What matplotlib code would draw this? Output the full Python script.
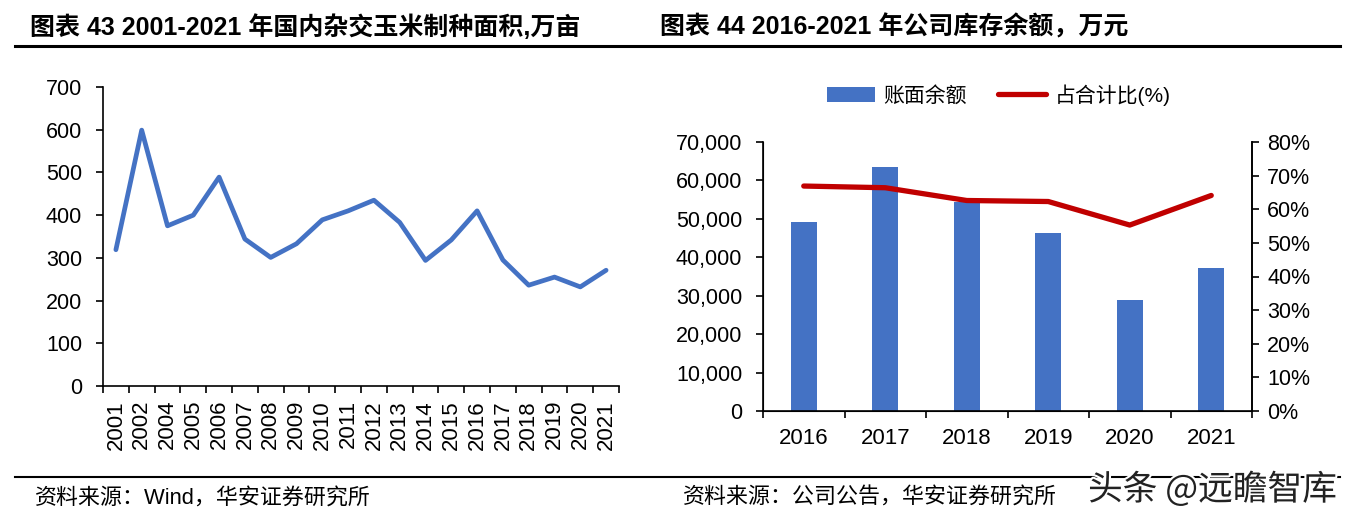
import numpy as np
import matplotlib
matplotlib.use("Agg")
from matplotlib import pyplot as plt
from matplotlib.lines import Line2D
import matplotlib.patheffects as pe

plt.rcParams['font.family'] = ['Liberation Sans', 'Noto Sans CJK SC', 'DejaVu Sans']

# left chart: hybrid corn seed area, 10k mu
years_l = ['2001', '2002', '2004', '2005', '2006', '2007', '2008', '2009', '2010', '2011',
           '2012', '2013', '2014', '2015', '2016', '2017', '2018', '2019', '2020', '2021']
area = [319, 599, 375, 400, 489, 344, 301, 333, 389, 410,
        435, 383, 294, 342, 410, 295, 236, 255, 232, 271]

# right chart: inventory balance, 10k yuan, and share
years_r = ['2016', '2017', '2018', '2019', '2020', '2021']
balance = [49300, 63400, 54400, 46300, 29000, 37200]
share = [66.9, 66.4, 62.6, 62.3, 55.3, 64.1]

blue = '#4472C4'
red = '#C00000'
fs = 16

fig = plt.figure(figsize=(13.55, 5.19), dpi=100)

# titles and rules
fig.text(30/1355, 1-27/519, '图表 43 2001-2021 年国内杂交玉米制种面积,万亩', fontsize=18,
         fontweight='bold', va='center', ha='left')
fig.text(660/1355, 1-27/519, '图表 44 2016-2021 年公司库存余额，万元', fontsize=18,
         fontweight='bold', va='center', ha='left')
fig.add_artist(Line2D([15/1355, 1340/1355], [1-46/519, 1-46/519], color='black', lw=2.2))
fig.add_artist(Line2D([15/1355, 1340/1355], [1-477/519, 1-477/519], color='black', lw=1.5))
fig.text(35/1355, 1-498/519, '资料来源：Wind，华安证券研究所', fontsize=15.8, va='center', ha='left')
fig.text(683/1355, 1-498/519, '资料来源：公司公告，华安证券研究所', fontsize=15.8, va='center', ha='left')
fig.text(1088/1355, 1-490/519, '头条 @远瞻智库', fontsize=25, va='center', ha='left',
         color='#222222', family=['Noto Sans CJK SC', 'DejaVu Sans'],
         path_effects=[pe.withStroke(linewidth=3, foreground='white')])

# left chart
ax1 = fig.add_axes([103/1355, 1-386/519, (619-103)/1355, (386-87)/519])
x = np.arange(len(years_l))
ax1.plot(x, area, color=blue, lw=3.4, solid_joinstyle='round', solid_capstyle='round')
ax1.set_xlim(-0.5, len(years_l)-0.5)
ax1.set_ylim(0, 700)
ax1.set_yticks(range(0, 701, 100))
ax1.set_xticks(np.arange(-0.5, len(years_l), 1))
ax1.set_xticklabels([])
ax1.set_xticks(x, minor=True)
ax1.set_xticklabels(years_l, minor=True, rotation=90)
ax1.tick_params(axis='x', which='minor', length=0, pad=10, labelsize=fs)
ax1.tick_params(axis='x', which='major', length=5, direction='out', width=1.2)
ax1.tick_params(axis='y', length=5, direction='out', width=1.2, labelsize=15.5, pad=10)
for s in ['top', 'right']:
    ax1.spines[s].set_visible(False)
for s in ['left', 'bottom']:
    ax1.spines[s].set_linewidth(1.2)

# right chart
ax2 = fig.add_axes([763/1355, 1-411/519, (1252-763)/1355, (411-142)/519])
xr = np.arange(len(years_r))
ax2.bar(xr, balance, width=0.32, color=blue, label='账面余额', zorder=2)
ax2.set_xlim(-0.5, len(years_r)-0.5)
ax2.set_ylim(0, 70000)
ax2.set_yticks(range(0, 70001, 10000))
ax2.set_yticklabels([f'{v:,}' for v in range(0, 70001, 10000)])
ax2.set_xticks(np.arange(-0.5, len(years_r), 1))
ax2.set_xticklabels([])
ax2.set_xticks(xr, minor=True)
ax2.set_xticklabels(years_r, minor=True)
ax2.tick_params(axis='x', which='minor', length=0, pad=12, labelsize=fs)
ax2.tick_params(axis='x', which='major', length=5, direction='out', width=1.2)
ax2.tick_params(axis='y', length=5, direction='out', width=1.2, labelsize=15.5, pad=10)
ax2.spines['top'].set_visible(False)
for s in ['left', 'bottom', 'right']:
    ax2.spines[s].set_linewidth(1.2)

ax3 = ax2.twinx()
ax3.plot(xr, share, color=red, lw=3.8, solid_capstyle='round', label='占合计比(%)', zorder=3)
ax3.set_ylim(0, 80)
ax3.set_yticks(range(0, 81, 10))
ax3.set_yticklabels([f'{v}%' for v in range(0, 81, 10)])
ax3.tick_params(axis='y', length=5, direction='out', width=1.2, labelsize=15.5, pad=6)
ax3.spines['top'].set_visible(False)
ax3.spines['right'].set_linewidth(1.2)

h1, l1 = ax2.get_legend_handles_labels()
h2, l2 = ax3.get_legend_handles_labels()
fig.legend(h1 + h2, l1 + l2, loc='center', bbox_to_anchor=(999/1355, 1-95/519), ncol=2,
           frameon=False, fontsize=15, handlelength=2.3, handleheight=0.7, columnspacing=1.5,
           handletextpad=0.4)

fig.savefig('out.png', dpi=100)
